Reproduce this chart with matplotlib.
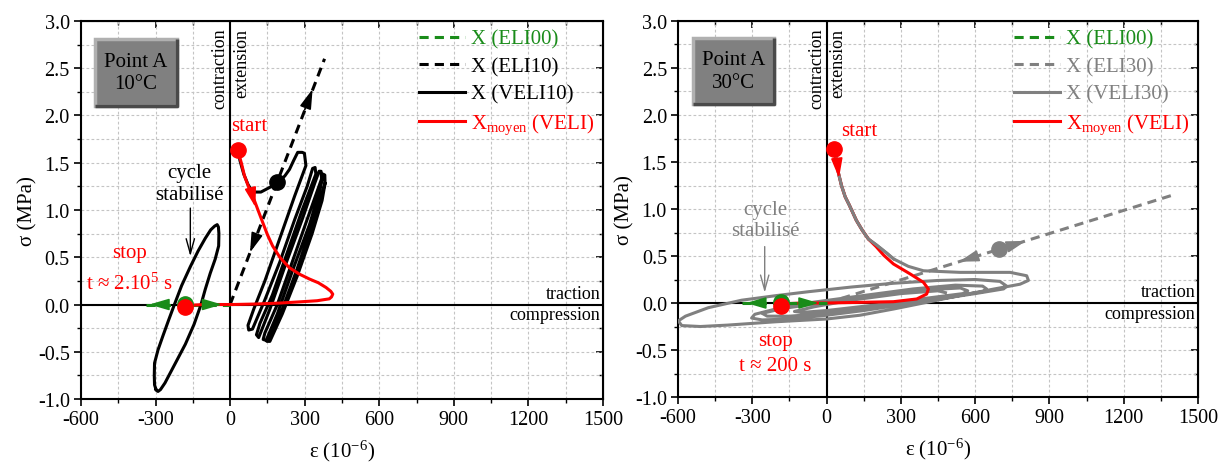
import matplotlib
matplotlib.use('Agg')
import matplotlib.pyplot as plt
from matplotlib.patches import Rectangle
from matplotlib.ticker import MultipleLocator, FormatStrFormatter

plt.rcParams['font.family'] = ['Liberation Serif', 'DejaVu Serif']
plt.rcParams['mathtext.fontset'] = 'custom'
plt.rcParams['mathtext.rm'] = 'Liberation Serif'
plt.rcParams['mathtext.it'] = 'Liberation Serif:italic'
plt.rcParams['mathtext.bf'] = 'Liberation Serif:bold'
plt.rcParams['axes.unicode_minus'] = False

RED = '#ff0000'
GREEN = '#1a8c1a'
GRAY = '#808080'

# ---------------- data: left panel (10°C) ----------------
eli00_eps = [-340, 0]
eli00_sig = [0.0, 0.0]

eli10_eps = [0, 380]
eli10_sig = [0.0, 2.60]
eli10_dot = [190, 1.30]

veli10_eps = [30, 40, 55, 72, 91, 124, 160, 192, 220, 239, 255, 272, 290, 299, 305,
              260, 200, 140, 95, 72, 75, 90,
              140, 200, 260, 310, 332, 342, 345,
              290, 230, 170, 120, 106, 115,
              160, 220, 290, 340, 358, 366, 368,
              310, 250, 190, 140, 133, 145,
              190, 250, 320, 365, 374, 381, 382,
              330, 270, 210, 160, 148, 160,
              210, 270, 330, 370, 382]
veli10_sig = [1.64, 1.52, 1.38, 1.27, 1.19, 1.19, 1.24, 1.29, 1.36, 1.43, 1.52, 1.61, 1.61, 1.60, 1.47,
              1.15, 0.70, 0.25, -0.05, -0.22, -0.27, -0.26,
              0.05, 0.45, 0.90, 1.25, 1.44, 1.45, 1.38,
              1.00, 0.55, 0.10, -0.20, -0.32, -0.35,
              -0.05, 0.40, 0.90, 1.28, 1.41, 1.41, 1.33,
              0.90, 0.45, 0.00, -0.30, -0.37, -0.38,
              -0.10, 0.35, 0.85, 1.25, 1.38, 1.37, 1.28,
              0.85, 0.38, -0.05, -0.33, -0.39, -0.39,
              -0.10, 0.30, 0.75, 1.10, 1.28]

cycle10_eps = [-298, -304, -305, -304, -290, -270, -248, -224, -195, -160, -128, -100, -78, -62, -52,
               -47, -45, -46, -60, -80, -100, -117, -145, -180, -212, -240, -262, -280, -290, -298]
cycle10_sig = [-0.90, -0.85, -0.75, -0.62, -0.48, -0.33, -0.17, 0.00, 0.20, 0.40, 0.57, 0.70, 0.79, 0.83, 0.845,
               0.82, 0.75, 0.62, 0.48, 0.33, 0.16, 0.00, -0.21, -0.42, -0.58, -0.72, -0.83, -0.90, -0.92, -0.90]

moy10_eps = [30, 45, 58, 75, 98, 115, 131, 150, 171, 200, 238, 280, 319, 355, 386, 405, 413, 408,
             399, 350, 292, 198, 100, 10, -100, -183]
moy10_sig = [1.64, 1.50, 1.36, 1.24, 1.10, 0.98, 0.87, 0.74, 0.62, 0.50, 0.39, 0.32, 0.27, 0.23, 0.18, 0.14, 0.11, 0.08,
             0.06, 0.04, 0.03, 0.015, 0.005, 0.0, 0.0, -0.01]

start_pt = [30, 1.64]
stop10_pt = [-183, -0.03]
green10_pt = [-183, 0.01]

# ---------------- data: right panel (30°C) ----------------
eli30_eps = [0, 1400]
eli30_sig = [0.0, 1.15]
eli30_dot = [697, 0.57]

veli30_eps = [30, 40, 48, 60, 75, 92, 120, 145, 169, 200, 243, 270, 330, 391, 539, 741, 808, 815, 781,
              674, 539, 404, 270, 135, 0, -208, -400, -510, -585, -599, -570,
              -478, -343, -200, -74, 100, 270, 450, 600, 700, 727, 715,
              600, 450, 300, 150, 0, -150, -260, -303, -290,
              -200, -50, 150, 350, 520, 630, 646, 630,
              500, 350, 200, 0, -150, -240, -260,
              -180, 0, 200, 400, 540, 570, 550,
              400, 200, 0, -100, -130,
              -50, 100, 300, 450, 480]
veli30_sig = [1.64, 1.52, 1.38, 1.25, 1.13, 1.04, 0.88, 0.77, 0.68, 0.62, 0.53, 0.47, 0.39, 0.343, 0.326, 0.326, 0.29, 0.24, 0.20,
              0.148, 0.08, 0.007, -0.064, -0.13, -0.17, -0.20, -0.235, -0.25, -0.24, -0.19, -0.14,
              -0.05, 0.03, 0.08, 0.12, 0.17, 0.21, 0.24, 0.25, 0.23, 0.18, 0.15,
              0.10, 0.04, -0.02, -0.08, -0.13, -0.17, -0.18, -0.16, -0.12,
              -0.06, 0.01, 0.08, 0.15, 0.19, 0.18, 0.15, 0.12,
              0.07, 0.01, -0.05, -0.11, -0.14, -0.14, -0.11,
              -0.06, 0.01, 0.08, 0.14, 0.16, 0.13, 0.10,
              0.05, -0.02, -0.08, -0.10, -0.09,
              -0.04, 0.03, 0.10, 0.13, 0.11]

moy30_eps = [30, 40, 48, 60, 75, 92, 120, 145, 169, 200, 230, 270, 337, 391, 411, 404,
             364, 270, 135, 0, -100, -185]
moy30_sig = [1.64, 1.52, 1.38, 1.25, 1.13, 1.04, 0.88, 0.77, 0.68, 0.60, 0.51, 0.415, 0.31, 0.22, 0.149, 0.095,
             0.043, 0.014, 0.007, 0.0, 0.0, -0.01]

stop30_pt = [-185, -0.036]
green30_pt = [-185, 0.007]

# arrows: (tail_eps, tail_sig, head_eps, head_sig)
green_arrows = [(-250, 0.0, -325, 0.0), (-100, 0.0, -32, 0.0)]
red_arrow10 = (85, 1.20, 102, 1.03)
red_arrow30 = (42, 1.52, 50, 1.33)
eli10_arrows = [(300, 2.06, 332, 2.28), (100, 0.69, 80, 0.55)]
eli30_arrows = [(740, 0.607, 805, 0.661), (600, 0.493, 535, 0.439)]


def arrow(ax, a, color, z=6, scale=16):
    ax.annotate('', xy=(a[2], a[3]), xytext=(a[0], a[1]),
                arrowprops=dict(arrowstyle='-|>,head_length=0.75,head_width=0.22', color=color,
                                lw=1.2, shrinkA=0, shrinkB=0, mutation_scale=scale), zorder=z)


def style(ax):
    ax.set_xlim(-600, 1500)
    ax.set_ylim(-1.0, 3.0)
    ax.xaxis.set_major_locator(MultipleLocator(300))
    ax.xaxis.set_minor_locator(MultipleLocator(150))
    ax.yaxis.set_major_locator(MultipleLocator(0.5))
    ax.yaxis.set_minor_locator(MultipleLocator(0.25))
    ax.yaxis.set_major_formatter(FormatStrFormatter('%.1f'))
    ax.grid(which='both', color='#c4c4c4', ls=(0, (2.5, 2)), lw=0.8)
    ax.set_axisbelow(True)
    ax.tick_params(which='major', direction='out', length=5, width=1.2, labelsize=14.5, pad=3)
    ax.tick_params(which='minor', direction='out', length=3, width=1.0)
    for sp in ax.spines.values():
        sp.set_linewidth(1.5)
    ax.axhline(0, color='k', lw=1.5, zorder=1.6)
    ax.axvline(0, color='k', lw=1.5, zorder=1.6)
    sx = ax.secondary_xaxis('top')
    sx.xaxis.set_major_locator(MultipleLocator(300))
    sx.xaxis.set_minor_locator(MultipleLocator(150))
    sx.tick_params(which='major', direction='in', length=5, width=1.2, labeltop=False)
    sx.tick_params(which='minor', direction='in', length=3, width=1.0)
    sy = ax.secondary_yaxis('right')
    sy.yaxis.set_major_locator(MultipleLocator(0.5))
    sy.yaxis.set_minor_locator(MultipleLocator(0.25))
    sy.tick_params(which='major', direction='in', length=5, width=1.2, labelright=False)
    sy.tick_params(which='minor', direction='in', length=3, width=1.0)
    ax.set_xlabel('ε (10$^{-6}$)', fontsize=15, labelpad=6)
    ax.set_ylabel('σ (MPa)', fontsize=15, labelpad=0)
    ax.text(-40, 2.93, 'contraction', rotation=90, ha='center', va='top', fontsize=13)
    ax.text(45, 2.93, 'extension', rotation=90, ha='center', va='top', fontsize=13)
    ax.text(1490, 0.12, 'traction', ha='right', va='center', fontsize=13)
    ax.text(1490, -0.11, 'compression', ha='right', va='center', fontsize=13)


def box(ax, x0, y0, w, h, label):
    ax.add_patch(Rectangle((x0, y0), w, h, fc='#808080', ec='#b0b0b0', lw=2.5, zorder=7))
    ax.plot([x0, x0 + w, x0 + w], [y0, y0, y0 + h], color='#4a4a4a', lw=2.5, zorder=7.1,
            solid_capstyle='butt')
    ax.text(x0 + w / 2, y0 + h / 2, label, ha='center', va='center', fontsize=15,
            linespacing=1.25, zorder=8)


def legend(ax, handles):
    ax.legend(handles=handles, loc='upper right', frameon=False, fontsize=15,
              handlelength=2.2, handletextpad=0.3, labelspacing=0.38, borderaxespad=0.1,
              borderpad=0.3, labelcolor='linecolor')


fig = plt.figure(figsize=(12.23, 4.64), dpi=100)
axL = fig.add_axes([0.0662, 0.1379, 0.4268, 0.8147])
axR = fig.add_axes([0.5544, 0.1422, 0.4252, 0.8104])

# ---------------- left panel ----------------
style(axL)
h00, = axL.plot(eli00_eps, eli00_sig, color=GREEN, lw=2.2, ls=(0, (3, 2)), zorder=4, label='X (ELI00)')
h10, = axL.plot(eli10_eps, eli10_sig, color='k', lw=2.2, ls=(0, (3, 2)), zorder=3, label='X (ELI10)')
hv10, = axL.plot(veli10_eps, veli10_sig, color='k', lw=2.2, zorder=4, label='X (VELI10)')
axL.plot(cycle10_eps, cycle10_sig, color='k', lw=2.2, zorder=4)
hm, = axL.plot(moy10_eps, moy10_sig, color=RED, lw=2.2, zorder=4.5, label='X$_{\\mathrm{moyen}}$ (VELI)')
axL.plot(*eli10_dot, 'o', color='k', ms=11, zorder=5)
axL.plot(*green10_pt, 'o', color=GREEN, ms=11, zorder=5)
axL.plot(*stop10_pt, 'o', color=RED, ms=11, zorder=6)
axL.plot(*start_pt, 'o', color=RED, ms=11, zorder=6)
for a in green_arrows:
    arrow(axL, a, GREEN)
arrow(axL, red_arrow10, RED)
for a in eli10_arrows:
    arrow(axL, a, 'k')
axL.text(5, 1.89, 'start', color=RED, ha='left', va='center', fontsize=15)
axL.text(-164, 1.28, 'cycle\nstabilisé', color='k', ha='center', va='center', fontsize=15, linespacing=1.15)
axL.annotate('', xy=(-160, 0.51), xytext=(-160, 1.02),
             arrowprops=dict(arrowstyle='->,head_length=0.9,head_width=0.25', color='k', lw=1.0,
                             shrinkA=0, shrinkB=0, mutation_scale=12))
axL.text(-404, 0.55, 'stop', color=RED, ha='center', va='center', fontsize=15)
axL.text(-404, 0.23, 't ≈ 2.10$^{5}$ s', color=RED, ha='center', va='center', fontsize=15)
box(axL, -543, 2.10, 329, 0.71, 'Point A\n10°C')
legend(axL, [h00, h10, hv10, hm])

# ---------------- right panel ----------------
style(axR)
g00, = axR.plot(eli00_eps, eli00_sig, color=GREEN, lw=2.2, ls=(0, (3, 2)), zorder=4.6, label='X (ELI00)')
g30, = axR.plot(eli30_eps, eli30_sig, color=GRAY, lw=2.2, ls=(0, (3, 2)), zorder=3, label='X (ELI30)')
gv30, = axR.plot(veli30_eps, veli30_sig, color=GRAY, lw=2.2, zorder=4, label='X (VELI30)')
gm, = axR.plot(moy30_eps, moy30_sig, color=RED, lw=2.2, zorder=4.3, label='X$_{\\mathrm{moyen}}$ (VELI)')
axR.plot(veli30_eps[:12], veli30_sig[:12], color=GRAY, lw=2.2, zorder=4.4)
axR.plot(*eli30_dot, 'o', color=GRAY, ms=11, zorder=5)
axR.plot(*green30_pt, 'o', color=GREEN, ms=11, zorder=5)
axR.plot(*stop30_pt, 'o', color=RED, ms=11, zorder=6)
axR.plot(*start_pt, 'o', color=RED, ms=11, zorder=6)
for a in green_arrows:
    arrow(axR, a, GREEN)
arrow(axR, red_arrow30, RED)
for a in eli30_arrows:
    arrow(axR, a, GRAY)
axR.text(58, 1.83, 'start', color=RED, ha='left', va='center', fontsize=15)
axR.text(-246, 0.88, 'cycle\nstabilisé', color=GRAY, ha='center', va='center', fontsize=15, linespacing=1.15)
axR.annotate('', xy=(-250, 0.11), xytext=(-250, 0.60),
             arrowprops=dict(arrowstyle='->,head_length=0.9,head_width=0.25', color=GRAY, lw=1.0,
                             shrinkA=0, shrinkB=0, mutation_scale=12))
axR.text(-208, -0.40, 'stop', color=RED, ha='center', va='center', fontsize=15)
axR.text(-208, -0.67, 't ≈ 200 s', color=RED, ha='center', va='center', fontsize=15)
box(axR, -538, 2.12, 327, 0.70, 'Point A\n30°C')
legend(axR, [g00, g30, gv30, gm])

fig.savefig('out.png', dpi=100)
